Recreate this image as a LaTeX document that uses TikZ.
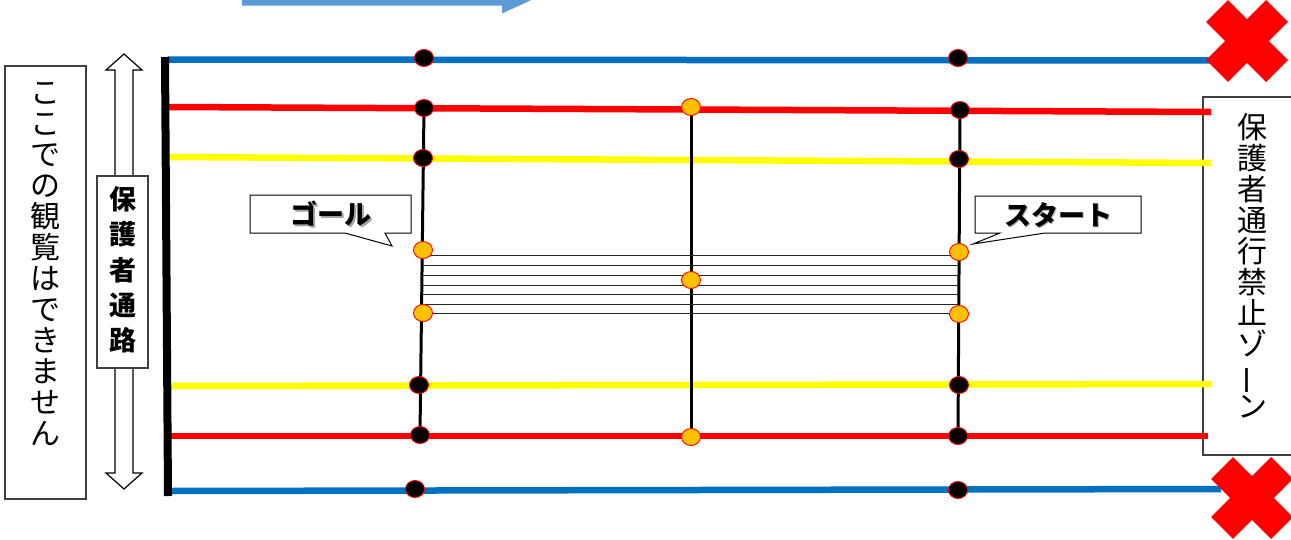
\documentclass[tikz,border=0pt]{standalone}
\usepackage{fontspec}
\newfontfamily\jp{Noto Sans CJK JP}
\usetikzlibrary{shapes.geometric}
\definecolor{lblue}{HTML}{0070C0}
\definecolor{arrowblue}{HTML}{5B9BD5}
\definecolor{dotorange}{HTML}{FFC000}
\definecolor{boxgray}{HTML}{404040}
\definecolor{lyellow}{HTML}{FFFF00}
\newcommand{\vbarchar}{\smash{\rotatebox[origin=c]{90}{ー}}}
\tikzset{
  bdot/.style={ellipse, draw=red, fill=black, line width=0.9, minimum width=19, minimum height=17, inner sep=0},
  odot/.style={ellipse, draw=red, fill=dotorange, line width=0.9, minimum width=19, minimum height=17, inner sep=0},
  rope/.style={line width=6.5},
  post/.style={line width=3, black},
  rung/.style={line width=1, black!85},
  infobox/.style={draw=boxgray, line width=1.3, fill=white},
  callout/.style={draw=black, line width=1, fill=white},
  vtext/.style={font=\jp\fontsize{30}{31}\selectfont, align=center, inner sep=0},
  calltext/.style={font=\jp\bfseries\fontsize{27}{30}\selectfont, inner sep=0},
  xmark/.style={red, line width=31, line cap=butt}
}
\begin{document}
\begin{tikzpicture}[x=1pt,y=-1pt]
\useasboundingbox (0,0) rectangle (1291,539);
\clip (0,0) rectangle (1291,539);

% top direction arrow
\fill[arrowblue] (242,-30) -- (242,5.5) -- (502,5.5) -- (502,13.5) -- (553,-10) -- (502,-30) -- cycle;

% right box (no right border visible)
\filldraw[infobox] (1300,97) -- (1203,97) -- (1203,455) -- (1300,455);
\node[vtext] (rtext) at (1252,266) {保\\護\\者\\通\\行\\禁\\止\\ゾ\\\vbarchar\\ン};

% left box
\draw[infobox] (5,66) rectangle (86,499);
\node[vtext] (ltext) at (45,264) {こ\\こ\\で\\の\\観\\覧\\は\\で\\き\\ま\\せ\\ん};

% hollow double arrow and its label
\filldraw[draw=black, fill=white, line width=1.2]
  (124,54) -- (142,70) -- (133,70) -- (133,473) -- (142,473) -- (124,489)
  -- (106,473) -- (115,473) -- (115,70) -- (106,70) -- cycle;
\draw[infobox] (97,176) rectangle (148,368);
\node[font=\jp\bfseries\fontsize{27}{35.3}\selectfont, align=center, inner sep=0] (ptext) at (123,270) {保\\護\\者\\通\\路};

% rope ends
\coordinate (bt1) at (168,59.5);  \coordinate (bt2) at (1215,60.5);
\coordinate (rt1) at (168,107);   \coordinate (rt2) at (1211,112);
\coordinate (yt1) at (168,157);   \coordinate (yt2) at (1211,163);
\coordinate (yb1) at (168,386);   \coordinate (yb2) at (1211,384);
\coordinate (rb1) at (168,436);   \coordinate (rb2) at (1208,436);
\coordinate (bb1) at (168,491);   \coordinate (bb2) at (1221,489);
\draw[rope, lblue] (bt1) -- (bt2);
\draw[rope, red] (rt1) -- (rt2);
\draw[rope, lyellow] (yt1) -- (yt2);
\draw[rope, lyellow] (yb1) -- (yb2);
\draw[rope, red] (rb1) -- (rb2);
\draw[rope, lblue] (bb1) -- (bb2);

% black wall
\coordinate (w1) at (165,57); \coordinate (w2) at (168,496);
\draw[line width=8, black] (w1) -- (w2);

% red X marks
\draw[xmark] (1217,11) -- (1277,71);
\draw[xmark] (1277,11) -- (1217,71);
\draw[xmark] (1222,468) -- (1282,528);
\draw[xmark] (1282,468) -- (1222,528);

% dot positions
\coordinate (L1) at (424,58);  \coordinate (L2) at (424,108); \coordinate (L3) at (423,158);
\coordinate (L4) at (423,250); \coordinate (L5) at (423,313); \coordinate (L6) at (419,385);
\coordinate (L7) at (420,435); \coordinate (L8) at (415,489);
\coordinate (M1) at (691,107); \coordinate (M2) at (691,280); \coordinate (M3) at (691,437);
\coordinate (R1) at (958,58);  \coordinate (R2) at (960,110); \coordinate (R3) at (959,159);
\coordinate (R4) at (959,252); \coordinate (R5) at (959,314); \coordinate (R6) at (959,385);
\coordinate (R7) at (958,436); \coordinate (R8) at (958,490);

% posts
\draw[post] (L2) -- (L7);
\draw[post] (M1) -- (M3);
\draw[post] (R2) -- (R7);

% ladder rungs
\foreach \i/\y in {1/255,2/265,3/275,4/285,5/294,6/304,7/313}{
  \coordinate (ra\i) at (422,\y);
  \coordinate (rb\i) at (959,\y);
  \draw[rung] (ra\i) -- (rb\i);
}

% dots
\node[bdot] (dL1) at (L1) {}; \node[bdot] (dL2) at (L2) {}; \node[bdot] (dL3) at (L3) {};
\node[odot] (dL4) at (L4) {}; \node[odot] (dL5) at (L5) {}; \node[bdot] (dL6) at (L6) {};
\node[bdot] (dL7) at (L7) {}; \node[bdot] (dL8) at (L8) {};
\node[odot] (dM1) at (M1) {}; \node[odot] (dM2) at (M2) {}; \node[odot] (dM3) at (M3) {};
\node[bdot] (dR1) at (R1) {}; \node[bdot] (dR2) at (R2) {}; \node[bdot] (dR3) at (R3) {};
\node[odot] (dR4) at (R4) {}; \node[odot] (dR5) at (R5) {}; \node[bdot] (dR6) at (R6) {};
\node[bdot] (dR7) at (R7) {}; \node[bdot] (dR8) at (R8) {};

% callouts
\filldraw[callout] (250,195) -- (411,195) -- (411,233) -- (385,233) -- (392,246) -- (345,233) -- (250,233) -- cycle;
\node[calltext, text=black!35] at (332.5,215.5) {ゴール};
\node[calltext] (goal) at (331,214) {ゴール};
\filldraw[callout] (975,196) -- (1141,196) -- (1141,233) -- (1045,233) -- (973,244) -- (1000,233) -- (975,233) -- cycle;
\node[calltext, text=black!35] at (1059.5,216.5) {スタート};
\node[calltext] (start) at (1058,215) {スタート};
\end{tikzpicture}
\end{document}
